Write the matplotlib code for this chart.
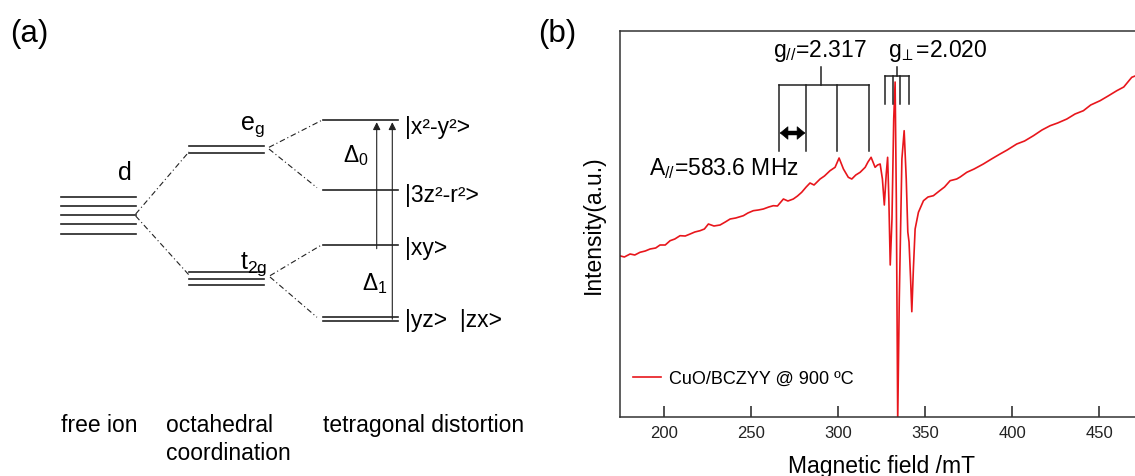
import matplotlib
matplotlib.use('Agg')
import matplotlib.pyplot as plt

plt.rcParams['font.family'] = ['Liberation Sans', 'DejaVu Sans']
plt.rcParams['mathtext.fontset'] = 'custom'
plt.rcParams['mathtext.rm'] = 'Liberation Sans'
plt.rcParams['mathtext.it'] = 'Liberation Sans:italic'
plt.rcParams['mathtext.bf'] = 'Liberation Sans:bold'

# ---- (a) crystal field diagram: level energies (arb. units) and column spans
FREE_ION_E = [279.3, 270.0, 260.7, 251.7, 242.3]
EG_E = [330.3, 322.7]
T2G_E = [203.7, 197.0, 191.0]
TETRA_E = [356.3, 286.3, 231.3, 158.7, 155.3]
TETRA_LABELS = ['|x²-y²>', '|3z²-r²>', '|xy>', '|yz>  |zx>']
TETRA_LABEL_E = [342.7, 275.3, 222.0, 150.3]
COL_FREE = (60.7, 135.7)
COL_OCT = (189.0, 264.0)
COL_TET = (323.0, 398.3)
COLUMN_NAMES = ['free ion', 'octahedral', 'coordination', 'tetragonal distortion']

# ---- (b) EPR spectrum
FIELD_MT = [174.8, 177.0, 180.3, 183.0, 186.0, 189.0, 191.8, 195.0, 197.5, 200.5,
            203.3, 206.0, 209.0, 212.0, 214.8, 217.5, 220.5, 223.0, 225.3, 228.5,
            232.0, 235.0, 237.8, 241.0, 245.4, 248.0, 251.1, 254.0, 256.9, 260.0,
            262.6, 265.0, 268.4, 271.0, 274.1, 276.5, 278.9, 281.5, 283.7, 286.0,
            289.5, 292.0, 295.2, 298.1, 300.4, 302.9, 305.7, 307.7, 310.0, 312.5,
            315.4, 317.0, 318.8, 321.1, 322.5, 324.0, 325.3, 326.4, 327.5, 328.3,
            329.0, 329.8, 330.8, 331.8, 332.6, 333.3, 334.1, 335.0, 336.5, 337.8,
            339.0, 339.9, 340.6, 341.5, 342.2, 343.1, 344.1, 346.0, 348.9, 351.5,
            354.6, 358.0, 361.0, 364.2, 368.0, 370.0, 373.8, 378.0, 383.3, 388.0,
            392.9, 397.0, 402.5, 407.0, 412.1, 417.0, 421.7, 426.0, 431.3, 436.0,
            440.8, 445.0, 450.4, 455.0, 460.0, 464.0, 468.6, 472.0]
INTENSITY = [160.5, 159.5, 162.5, 161.5, 164.2, 165.5, 167.5, 168.5, 171.5, 171.5,
             175.8, 177.5, 180.8, 180.5, 182.5, 184.5, 185.8, 187.5, 192.5, 190.5,
             191.5, 194.5, 197.5, 198.5, 200.8, 203.5, 205.8, 206.5, 207.5, 209.5,
             210.8, 210.5, 217.5, 215.5, 217.5, 220.5, 224.2, 229.5, 233.5, 231.5,
             237.5, 240.5, 245.8, 249.2, 258.5, 247.5, 239.2, 237.5, 241.5, 244.2,
             249.2, 254.5, 259.2, 249.2, 251.5, 252.5, 237.5, 211.5, 242.5, 259.2,
             217.5, 151.5, 197.5, 297.5, 334.5, 217.5, -4.5, 117.5, 257.5, 285.8,
             237.5, 184.5, 174.5, 137.5, 104.8, 147.5, 187.5, 204.2, 215.8, 219.5,
             220.8, 225.5, 229.5, 235.8, 237.5, 239.5, 244.2, 247.5, 252.5, 257.5,
             262.5, 266.5, 272.5, 275.5, 280.8, 286.5, 290.8, 293.5, 297.5, 302.5,
             305.8, 311.5, 315.8, 320.5, 325.8, 329.5, 339.2, 341.5]
G_PAR_LINES = [265.8, 281.3, 299.4, 317.6]
G_PERP_LINES = [326.8, 331.3, 335.5, 340.6]
XTICKS = [200, 250, 300, 350, 400, 450]

FS = 16.5
LC = '#222222'

fig = plt.figure(figsize=(11.35, 4.77), dpi=100)

# ================= (a) =================
ax = fig.add_axes([0, 0, 560 / 1135, 1])
ax.set_xlim(0, 560)
ax.set_ylim(0, 477)
ax.axis('off')

for e in FREE_ION_E:
    ax.plot(COL_FREE, [e, e], color=LC, lw=1.2)
for e in EG_E + T2G_E:
    ax.plot(COL_OCT, [e, e], color=LC, lw=1.2)
for e in TETRA_E:
    ax.plot(COL_TET, [e, e], color=LC, lw=1.2)

dd = dict(color=LC, lw=0.8, ls=(0, (5, 2.5, 1, 2.5)))
ax.plot([COL_FREE[1], COL_OCT[0]], [262, EG_E[1] + 1.5], **dd)
ax.plot([COL_FREE[1], COL_OCT[0]], [260, T2G_E[1] + 4], **dd)
ax.plot([COL_OCT[1] + 5, COL_TET[0]], [328.7, TETRA_E[0]], **dd)
ax.plot([COL_OCT[1] + 5, COL_TET[0] - 6], [327, TETRA_E[1] + 2], **dd)
ax.plot([COL_OCT[1] + 6, COL_TET[0] - 1], [200.3, TETRA_E[2]], **dd)
ax.plot([COL_OCT[1] + 6, COL_TET[0] - 6], [199, TETRA_E[3]], **dd)

arr = dict(arrowstyle='-|>', lw=0.8, color=LC, mutation_scale=11, shrinkA=0, shrinkB=0)
ax.annotate('', xy=(376.7, TETRA_E[0] - 2.5), xytext=(376.7, TETRA_E[2] - 4), arrowprops=arr)
ax.annotate('', xy=(392.3, TETRA_E[0] - 2.5), xytext=(392.3, TETRA_E[4] + 1.5), arrowprops=arr)

ax.text(118, 297, 'd', fontsize=FS + 1.5, ha='left', va='baseline')
ax.text(240, 347, r'e$_\mathregular{g}$', fontsize=FS + 1.5, ha='left', va='baseline')
ax.text(240, 208, r't$_\mathregular{2g}$', fontsize=FS + 1.5, ha='left', va='baseline')
ax.text(342.7, 315.3, r'Δ$_\mathregular{0}$', fontsize=FS, ha='left', va='baseline')
ax.text(361.7, 187, r'Δ$_\mathregular{1}$', fontsize=FS, ha='left', va='baseline')
for lab, e in zip(TETRA_LABELS, TETRA_LABEL_E):
    ax.text(405, e, lab, fontsize=FS, ha='left', va='baseline')

ax.text(60.7, 45.3, COLUMN_NAMES[0], fontsize=FS, ha='left', va='baseline')
ax.text(166, 45.3, COLUMN_NAMES[1], fontsize=FS, ha='left', va='baseline')
ax.text(166, 17.0, COLUMN_NAMES[2], fontsize=FS, ha='left', va='baseline')
ax.text(322.7, 45.3, COLUMN_NAMES[3], fontsize=FS, ha='left', va='baseline')
ax.text(10, 435, '(a)', fontsize=22.5, ha='left', va='baseline')
ax.text(538, 435, '(b)', fontsize=22.5, ha='left', va='baseline')

# ================= (b) =================
bx = fig.add_axes([620 / 1135, 59.5 / 477, 566.4 / 1135, 385.5 / 477])
bx.plot(FIELD_MT, INTENSITY, color='#e8161c', lw=1.2, label='CuO/BCZYY @ 900 ºC')
bx.set_xlim(174.5, 500)
bx.set_ylim(0, 385.5)
bx.set_xticks(XTICKS)
bx.set_yticks([])
bx.tick_params(axis='x', direction='in', length=8, width=1.1, labelsize=12,
               pad=6, colors='#222222')
for s in ['left', 'bottom', 'top']:
    bx.spines[s].set_linewidth(1.1)
    bx.spines[s].set_color('#333333')
bx.spines['right'].set_visible(False)

bx.set_xlabel('Magnetic field /mT', fontsize=FS)
bx.xaxis.set_label_coords(0.462, -0.097)
bx.set_ylabel('Intensity(a.u.)', fontsize=FS)
bx.yaxis.set_label_coords(-0.0477, 0.5)
bx.yaxis.label.set_va('center')

# hyperfine brackets
top_par, bot_par, stem_top = 331.5, 265.8, 349.2
bx.plot([G_PAR_LINES[0], G_PAR_LINES[-1]], [top_par, top_par], color=LC, lw=1.1)
for x in G_PAR_LINES:
    bx.plot([x, x], [bot_par, top_par], color=LC, lw=1.1)
bx.plot([290.1, 290.1], [top_par, stem_top], color=LC, lw=1.1)

top_perp, bot_perp = 340.8, 312.5
bx.plot([G_PERP_LINES[0], G_PERP_LINES[-1]], [top_perp, top_perp], color=LC, lw=1.1)
for x in G_PERP_LINES:
    bx.plot([x, x], [bot_perp, top_perp], color=LC, lw=1.1)
bx.plot([333.6, 333.6], [top_perp, stem_top], color=LC, lw=1.1)

# double-headed arrow for A//
arr_y = 283.5
bx.plot([269.0, 278.4], [arr_y, arr_y], color='black', lw=3.2, solid_capstyle='butt')
head = dict(arrowstyle='-|>,head_length=0.55,head_width=0.45', lw=0.5, color='black',
            mutation_scale=10, shrinkA=0, shrinkB=0)
bx.annotate('', xy=(266.3, arr_y), xytext=(272.0, arr_y), arrowprops=head)
bx.annotate('', xy=(281.0, arr_y), xytext=(275.3, arr_y), arrowprops=head)

bx.text(289.3, 360.8, r'g$_\mathregular{//}$=2.317', fontsize=16.5, ha='center', va='baseline')
bx.text(328.4, 360.8, r'g$_{\!\perp}$=2.020', fontsize=16.5, ha='left', va='baseline')
bx.text(191.2, 242.5, r'A$_\mathregular{//}$=583.6 MHz', fontsize=16.5, ha='left', va='baseline')

bx.legend(loc='center left', bbox_to_anchor=(0.0224, 0.099), frameon=False,
          fontsize=13, handlelength=1.55, handletextpad=0.45,
          borderpad=0, borderaxespad=0)

fig.savefig('out.png', dpi=100, facecolor='white')
